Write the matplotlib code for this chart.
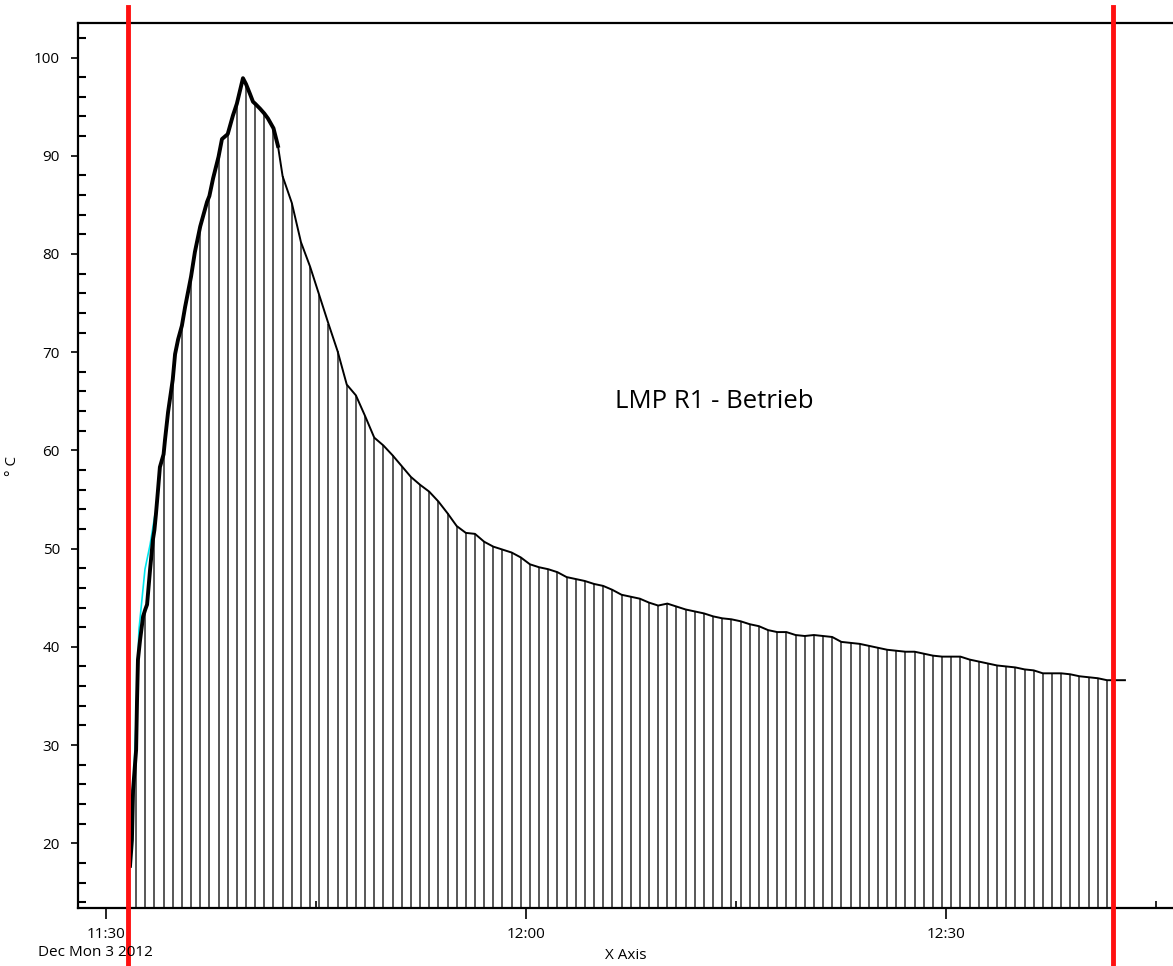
import matplotlib.pyplot as plt
import matplotlib.dates as mdates
import pandas as pd

day = "2012-12-03 "

# regular samples of the logger (drawn as drop lines), ~39 s apart
sample_start = day + "11:32:09"
sample_end = day + "12:41:30"
sample_temps = [
    29.5, 43.8, 51.9, 59.6, 67.2, 72.7, 77.7, 82.8, 85.9, 89.9,
    92.2, 95.3, 97.3, 95.3, 94.3, 92.8, 87.9, 85.2, 81.2, 78.7,
    75.8, 72.9, 70.1, 66.7, 65.6, 63.5, 61.3, 60.5, 59.5, 58.4,
    57.3, 56.5, 55.8, 54.8, 53.6, 52.3, 51.6, 51.5, 50.7, 50.2,
    49.9, 49.6, 49.1, 48.4, 48.1, 47.9, 47.6, 47.1, 46.9, 46.7,
    46.4, 46.2, 45.8, 45.3, 45.1, 44.9, 44.5, 44.2, 44.4, 44.1,
    43.8, 43.6, 43.4, 43.1, 42.9, 42.8, 42.6, 42.3, 42.1, 41.7,
    41.5, 41.5, 41.2, 41.1, 41.2, 41.1, 41.0, 40.5, 40.4, 40.3,
    40.1, 39.9, 39.7, 39.6, 39.5, 39.5, 39.3, 39.1, 39.0, 39.0,
    39.0, 38.7, 38.5, 38.3, 38.1, 38.0, 37.9, 37.7, 37.6, 37.3,
    37.3, 37.3, 37.2, 37.0, 36.9, 36.8, 36.6,
]

# finer readings of the trace between the samples
detail_times = [
    "11:31:43", "11:31:51", "11:31:56", "11:32:13", "11:32:17", "11:32:26",
    "11:32:39", "11:32:56", "11:33:09", "11:33:21", "11:33:34", "11:33:43",
    "11:33:51", "11:34:13", "11:34:26", "11:34:56", "11:35:09", "11:35:39",
    "11:36:21", "11:37:13", "11:37:39", "11:38:17", "11:39:04", "11:39:47",
    "11:40:17", "11:40:30", "11:41:00", "11:41:34", "11:42:17", "12:42:47",
]
detail_temps = [
    17.7, 20.3, 25.4, 34.6, 38.7, 40.7,
    43.1, 44.3, 47.9, 50.9, 53.5, 56.0,
    58.3, 61.1, 63.9, 69.8, 71.3, 74.6,
    80.2, 85.3, 87.7, 91.7, 94.1, 97.9,
    96.3, 95.5, 94.8, 93.8, 91.0, 36.6,
]

# second channel, only visible during the first minutes
cyan_times = ["11:31:56", "11:32:09", "11:32:21", "11:32:34", "11:32:47", "11:33:09", "11:33:30"]
cyan_temps = [24.4, 32.6, 41.7, 44.8, 47.9, 50.4, 53.5]

marker_times = ["11:31:34", "12:41:55"]
y_bottom, y_top = 13.4, 103.5

sample_times = pd.date_range(sample_start, sample_end, periods=len(sample_temps))
line = pd.Series(sample_temps, index=sample_times)
extra = pd.Series(detail_temps, index=pd.to_datetime([day + t for t in detail_times]))
line = pd.concat([line, extra]).sort_index()
rise = line[line.index <= pd.Timestamp(day + "11:42:30")]

fig = plt.figure(figsize=(11.73, 9.66), dpi=100)
ax = fig.add_axes([0.0665, 0.060, 0.9335, 0.916])

ax.vlines(sample_times, y_bottom, sample_temps, color="#4a4a4a", lw=1.3, zorder=2)
ax.plot(pd.to_datetime([day + t for t in cyan_times]), cyan_temps, color="#00e5ee", lw=1.2, zorder=3)
ax.plot(line.index, line.values, color="black", lw=1.4, zorder=4)
ax.plot(rise.index, rise.values, color="black", lw=2.8, zorder=4)

for t in marker_times:
    ax.axvline(pd.Timestamp(day + t), ymin=-0.07, ymax=1.018, color="#ff1010",
               lw=3.5, clip_on=False, zorder=5)

ax.text(pd.Timestamp(day + "12:13:25"), 65.0, "LMP R1 - Betrieb", fontsize=18.5,
        family="Open Sans", ha="center", va="center")

ax.set_xlim(pd.Timestamp(day + "11:28:00"), pd.Timestamp(day + "12:46:13"))
ax.set_ylim(y_bottom, y_top)

ax.set_xticks(pd.to_datetime([day + "11:30", day + "12:00", day + "12:30"]))
ax.set_xticks(pd.to_datetime([day + "11:45", day + "12:15", day + "12:45"]), minor=True)
ax.xaxis.set_major_formatter(mdates.DateFormatter("%H:%M"))
ax.set_yticks(range(20, 101, 10))
ax.set_yticks(range(14, 104, 2), minor=True)

ax.tick_params(axis="both", which="major", labelsize=11, width=1.2, color="black")
ax.tick_params(axis="y", which="major", direction="out", length=5, pad=8)
ax.tick_params(axis="y", which="minor", direction="in", length=6, width=1.5)
ax.tick_params(axis="x", which="major", direction="out", length=8, pad=6)
ax.tick_params(axis="x", which="minor", direction="in", length=5, width=1.2)
for lab in ax.get_xticklabels() + ax.get_yticklabels():
    lab.set_family("Open Sans")

ax.spines["right"].set_visible(False)
for s in ["left", "top", "bottom"]:
    ax.spines[s].set_linewidth(1.6)

ax.set_xlabel("X Axis", fontsize=11, family="Open Sans", labelpad=4)
ax.set_ylabel("° C", fontsize=11, family="Open Sans")
ax.yaxis.set_label_coords(-0.053, 0.5)
fig.text(95 / 1173, 1 - 953 / 966, "Dec Mon 3 2012", fontsize=11, family="Open Sans",
         ha="center", va="center")

fig.savefig("out.png", dpi=100)
